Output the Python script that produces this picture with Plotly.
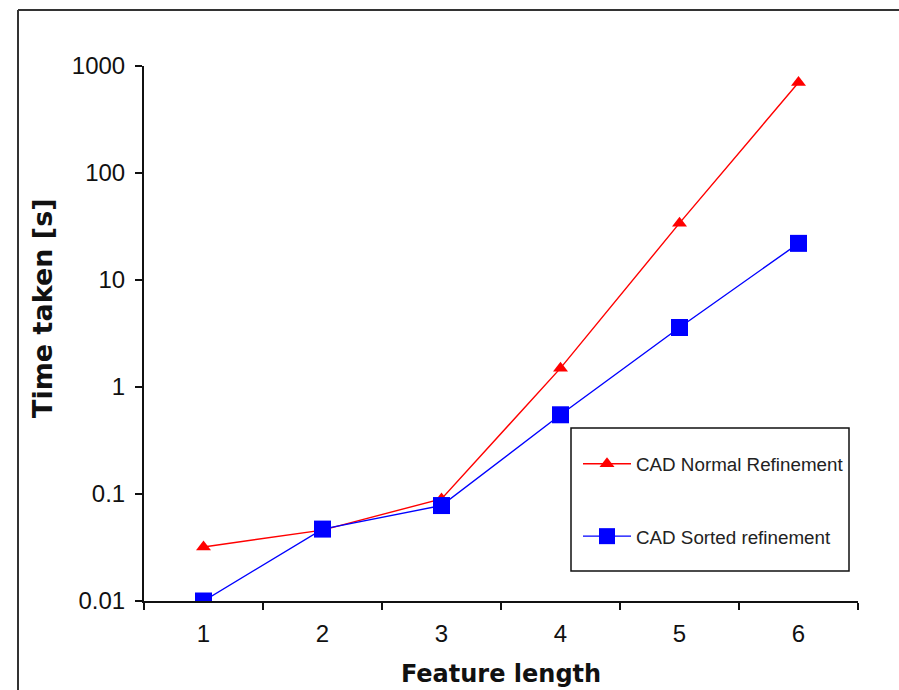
import plotly.graph_objects as go

feature_length = [1, 2, 3, 4, 5, 6]
normal_refinement = [0.032, 0.046, 0.09, 1.5, 34, 700]
sorted_refinement = [0.01, 0.047, 0.078, 0.55, 3.6, 22]
y_tick_vals = [0.01, 0.1, 1, 10, 100, 1000]
y_tick_text = ["0.01", "0.1", "1", "10", "100", "1000"]

W, H = 899, 690
L, R, T, B = 144, 41, 66, 89
pw, ph = W - L - R, H - T - B

def px(x):
    return (x - L) / pw

def py(y):
    return (H - B - y) / ph

fig = go.Figure()
fig.add_trace(go.Scatter(
    x=feature_length, y=normal_refinement, name="CAD Normal Refinement",
    mode="lines+markers", legendgroup="a",
    line=dict(color="#ff0000", width=1.4),
    marker=dict(symbol="triangle-up", size=13, color="#ff0000"),
))
fig.add_trace(go.Scatter(
    x=feature_length, y=sorted_refinement, name="CAD Sorted refinement",
    mode="lines+markers", legendgroup="b",
    line=dict(color="#0000ff", width=1.4),
    marker=dict(symbol="square", size=17, color="#0000ff"),
))

axis_font = dict(family="Liberation Sans, Arial", size=24, color="#111")
title_font = dict(family="DejaVu Sans, Verdana", size=24, color="#111")

frame = dict(color="#333", width=2)

fig.update_layout(
    width=W, height=H,
    margin=dict(l=L, r=R, t=T, b=B, autoexpand=False),
    paper_bgcolor="white", plot_bgcolor="white",
    showlegend=True,
    legend=dict(
        x=px(578), y=py(445), xanchor="left", yanchor="top",
        bgcolor="rgba(0,0,0,0)", borderwidth=0,
        font=dict(family="Liberation Sans, Arial", size=18.8, color="#222"),
        traceorder="grouped", tracegroupgap=45, itemwidth=48,
    ),
    xaxis=dict(
        range=[0.5, 6.5], tickvals=feature_length,
        ticktext=[str(v) for v in feature_length],
        ticks="", showgrid=False, zeroline=False, automargin=False,
        showline=True, linecolor="#111", linewidth=2,
        tickfont=axis_font, ticklabelstandoff=10,
        minor=dict(ticks="outside", tick0=0.5, dtick=1, ticklen=7,
                   tickcolor="#111", tickwidth=2, showgrid=False),
        title=dict(text="<b>Feature length</b>", font=title_font, standoff=19),
    ),
    yaxis=dict(
        type="log", range=[-2, 3], tickvals=y_tick_vals, ticktext=y_tick_text,
        ticks="outside", ticklen=7, tickwidth=2, tickcolor="#111",
        showgrid=False, zeroline=False, automargin=False,
        showline=True, linecolor="#111", linewidth=2,
        tickfont=axis_font, ticklabelstandoff=5,
    ),
    annotations=[
        dict(text="<b>Time taken [s]</b>", textangle=-90, showarrow=False,
             xref="paper", yref="paper", x=px(42), y=py(308),
             xanchor="center", yanchor="middle", font=dict(
                 family="DejaVu Sans, Verdana", size=27, color="#111")),
    ],
    shapes=[
        # outer frame (only top and left edges fall inside the picture)
        dict(type="line", xref="paper", yref="paper",
             x0=px(18), x1=px(899), y0=py(10), y1=py(10), line=frame),
        dict(type="line", xref="paper", yref="paper",
             x0=px(18), x1=px(18), y0=py(10), y1=py(690), line=frame),
        # legend box
        dict(type="rect", xref="paper", yref="paper",
             x0=px(571), x1=px(849), y0=py(428), y1=py(571),
             line=dict(color="#111", width=1.5)),
    ],
)

fig.write_html(
    "out.html",
    config={"displayModeBar": False},
    post_script="document.body.style.margin='0';"
                "document.documentElement.style.overflow='hidden';",
)
